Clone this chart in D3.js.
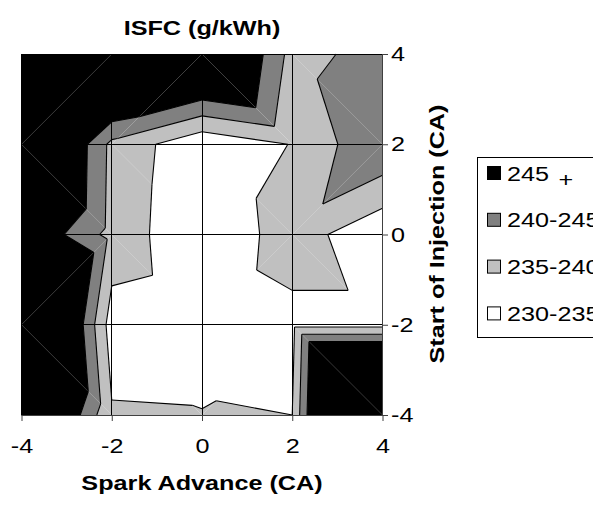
<!DOCTYPE html>
<html>
<head>
<meta charset="utf-8">
<script src="https://cdn.jsdelivr.net/npm/d3@7"></script>
<style>
  body { margin: 0; background: #fff; }
  text { font-family: "Liberation Sans", Arial, sans-serif; }
</style>
</head>
<body>
<div id="chart"></div>
<script>
  // grid of the contour chart: spark advance (x) by start of injection (y)
  const sparkAdvance = [-4, -2, 0, 2, 4];
  const injection = [4, 2, 0, -2, -4];

  // ISFC (g/kWh), one row per injection value, top row first
  const isfc = [
    [258, 264, 259.4, 238.2, 241.9],
    [262, 238.7, 231.1, 235.2, 244.7],
    [251, 238.3, 230.4, 237.6, 231.0],
    [272, 232.5, 231.0, 233.4, 233.4],
    [262.7, 235.5, 235.3, 235.0, 296]
  ];

  // how each grid cell is split into two triangles
  const splits = [
    ["/", "/", "\\", "\\"],
    ["\\", "\\", "\\", "/"],
    ["/", "\\", "/", "\\"],
    ["\\", "\\", "/", "\\"]
  ];

  const levels = [235, 240, 245];
  const bandNames = ["245", "240-245", "235-240", "230-235"];
  const xTicks = [-4, -2, 0, 2, 4];
  const yTicks = [-4, -2, 0, 2, 4];

  const bandFill = ["#ffffff", "#c0c0c0", "#808080", "#000000"];

  const width = 593,
    height = 509;

  const svg = d3.select("#chart")
    .append("svg")
    .attr("width", width)
    .attr("height", height);

  const x = d3.scaleLinear()
    .domain([-4, 4])
    .range([21.5, 382.5]);

  const y = d3.scaleLinear()
    .domain([-4, 4])
    .range([415, 54]);

  // build the triangles
  const tris = [];
  splits.forEach((row, r) => {
    row.forEach((s, c) => {
      const P = (i, j) => ({ x: sparkAdvance[j], y: injection[i], z: isfc[i][j] });
      const tl = P(r, c), tr = P(r, c + 1), bl = P(r + 1, c), br = P(r + 1, c + 1);
      if (s === "\\") tris.push([tl, tr, br], [tl, bl, br]);
      else tris.push([tl, tr, bl], [bl, tr, br]);
    });
  });

  function lerp(a, b, t) {
    return { x: a.x + t * (b.x - a.x), y: a.y + t * (b.y - a.y), z: a.z + t * (b.z - a.z) };
  }

  // keep the part of a polygon where f >= 0 (z is linear on a triangle)
  function clip(poly, f) {
    const out = [];
    poly.forEach((a, i) => {
      const b = poly[(i + 1) % poly.length];
      const fa = f(a), fb = f(b);
      if (fa >= 0) out.push(a);
      if ((fa >= 0) !== (fb >= 0)) out.push(lerp(a, b, fa / (fa - fb)));
    });
    return out;
  }

  const bounds = [-Infinity, ...levels, Infinity];
  const pieces = [];
  tris.forEach(tri => {
    for (let k = 0; k < bounds.length - 1; k++) {
      let poly = tri;
      if (isFinite(bounds[k])) poly = clip(poly, p => p.z - bounds[k]);
      if (poly.length > 2 && isFinite(bounds[k + 1])) poly = clip(poly, p => bounds[k + 1] - p.z);
      if (poly.length > 2) pieces.push({ band: k, poly: poly });
    }
  });

  const line = d3.line()
    .x(p => x(p.x))
    .y(p => y(p.y));

  svg.append("g")
    .selectAll("path")
    .data(pieces)
    .join("path")
    .attr("d", d => line(d.poly) + "Z")
    .attr("fill", d => bandFill[d.band]);

  // contour lines
  const segs = [];
  tris.forEach(tri => {
    levels.forEach(L => {
      const pts = [];
      for (let i = 0; i < 3; i++) {
        const a = tri[i], b = tri[(i + 1) % 3];
        if ((a.z >= L) !== (b.z >= L)) pts.push(lerp(a, b, (L - a.z) / (b.z - a.z)));
      }
      if (pts.length === 2) segs.push(pts);
    });
  });

  svg.append("g")
    .selectAll("line")
    .data(segs)
    .join("line")
    .attr("x1", d => x(d[0].x))
    .attr("y1", d => y(d[0].y))
    .attr("x2", d => x(d[1].x))
    .attr("y2", d => y(d[1].y))
    .attr("stroke", "#000")
    .attr("stroke-width", 1.1);

  // gridlines
  const grid = svg.append("g").attr("stroke", "#000").attr("stroke-width", 1);
  xTicks.forEach(v => {
    const px = Math.floor(x(v)) + 0.5;
    grid.append("line").attr("x1", px).attr("x2", px).attr("y1", y(4)).attr("y2", y(-4));
  });
  yTicks.forEach(v => {
    const py = Math.floor(y(v)) + 0.5;
    grid.append("line").attr("x1", x(-4)).attr("x2", x(4)).attr("y1", py).attr("y2", py);
  });

  // axes
  const fmt = d => String(d);

  const xAxis = svg.append("g")
    .attr("transform", `translate(0, ${y(-4)})`)
    .call(d3.axisBottom(x).tickValues(xTicks).tickFormat(fmt)
      .tickSize(6).tickSizeOuter(0).tickPadding(17));

  const yAxis = svg.append("g")
    .attr("transform", `translate(${x(4) - 0.5}, 0)`)
    .call(d3.axisRight(y).tickValues(yTicks).tickFormat(fmt)
      .tickSize(6).tickSizeOuter(0).tickPadding(3));

  [xAxis, yAxis].forEach(g => {
    g.selectAll("path, line").attr("stroke", "#404040");
    g.selectAll("text")
      .attr("font-family", "Liberation Sans, Arial, sans-serif")
      .attr("font-size", 21)
      .attr("fill", "#000")
      .attr("transform", "scale(1.2,1)");
  });
  yAxis.selectAll("text").attr("x", 7.5);

  // titles
  svg.append("text")
    .attr("transform", "translate(202, 35) scale(1.2,1)")
    .attr("text-anchor", "middle")
    .attr("font-weight", "bold")
    .attr("font-size", 21)
    .text("ISFC (g/kWh)");

  svg.append("text")
    .attr("transform", "translate(202, 490) scale(1.2,1)")
    .attr("text-anchor", "middle")
    .attr("font-weight", "bold")
    .attr("font-size", 21)
    .text("Spark Advance (CA)");

  svg.append("text")
    .attr("transform", "translate(444, 234) rotate(-90) scale(1.2,1)")
    .attr("text-anchor", "middle")
    .attr("font-weight", "bold")
    .attr("font-size", 21)
    .text("Start of Injection (CA)");

  // legend (runs past the right edge, as in the original)
  const legend = svg.append("g");
  legend.append("rect")
    .attr("x", 477.5)
    .attr("y", 157.5)
    .attr("width", 140)
    .attr("height", 180)
    .attr("fill", "#fff")
    .attr("stroke", "#000");

  const items = legend.selectAll("g.item")
    .data(bandNames)
    .join("g")
    .attr("class", "item")
    .attr("transform", (d, i) => `translate(0, ${173 + i * 46.8})`);

  items.append("rect")
    .attr("x", 487.5)
    .attr("y", -6.5)
    .attr("width", 13)
    .attr("height", 13)
    .attr("fill", (d, i) => bandFill[3 - i])
    .attr("stroke", "#000");

  const labels = items.append("text")
    .attr("transform", "translate(507, 7.5) scale(1.2,1)")
    .attr("font-size", 21)
    .text(d => d);

  labels.filter((d, i) => i === 0)
    .append("tspan")
    .attr("dx", 8)
    .attr("dy", 6)
    .text("+");
</script>
</body>
</html>
